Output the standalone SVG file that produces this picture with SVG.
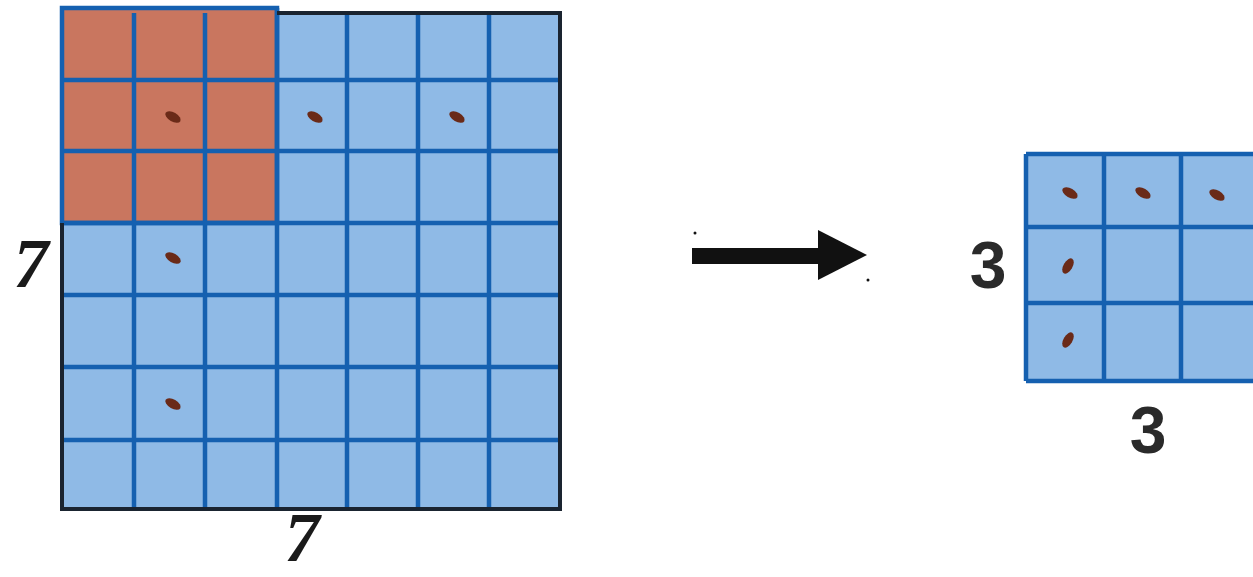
<svg xmlns="http://www.w3.org/2000/svg" width="1253" height="577" viewBox="0 0 1253 577">
<style>
.cell{fill:#8fbae6}
.brown{fill:#c9765f}
.gl{stroke:#1560b0;stroke-width:4.5;fill:none}
.outer{stroke:#1a2430;stroke-width:4;fill:none}
.dot{fill:#6a2a18}
.n7{font-family:"Liberation Serif",serif;font-style:italic;font-weight:bold;font-size:70px;fill:#1a1a1a;text-anchor:middle}
.n3{font-family:"Liberation Sans",sans-serif;font-weight:bold;font-size:66px;fill:#2a2a2a;text-anchor:middle}
</style>
<defs>
<ellipse id="d" class="dot" cx="0" cy="0" rx="8.5" ry="4.5"/>
</defs>
<rect width="1253" height="577" fill="#ffffff"/>
<g id="input-grid">
<rect class="cell" x="62" y="13" width="498" height="496"/>
<rect class="brown" x="62" y="8" width="215" height="215"/>
<path class="gl" d="M134 13V509M205 13V509M277 8V509M347 13V509M418 13V509M489 13V509M62 80H560M62 151H560M62 223H560M62 295H560M62 367H560M62 440H560"/>
<path class="gl" d="M62 8H277V223H62Z"/>
<path class="outer" d="M277 13H560V509H62V223"/>
<use href="#d" transform="translate(173,117) rotate(30)"/>
<use href="#d" transform="translate(315,117) rotate(30)"/>
<use href="#d" transform="translate(457,117) rotate(30)"/>
<use href="#d" transform="translate(173,258) rotate(30)"/>
<use href="#d" transform="translate(173,404) rotate(30)"/>
<text class="n7" x="31" y="287">7</text>
<text class="n7" x="302" y="561" font-size="66">7</text>
</g>
<g id="connectors">
<rect x="692" y="248" width="130" height="16" fill="#111"/>
<path d="M818 230L867 255L818 280Z" fill="#111"/>
<circle cx="695" cy="233" r="1.5" fill="#111"/>
<circle cx="868" cy="280" r="1.5" fill="#111"/>
</g>
<g id="output-grid">
<rect class="cell" x="1026" y="154" width="232" height="227"/>
<path class="gl" d="M1026 154H1258M1026 227H1258M1026 303H1258M1026 381H1258M1026 154V381M1104 154V381M1181 154V381"/>
<use href="#d" transform="translate(1070,193) rotate(30)"/>
<use href="#d" transform="translate(1143,193) rotate(30)"/>
<use href="#d" transform="translate(1217,195) rotate(30)"/>
<use href="#d" transform="translate(1068,266) rotate(-60)"/>
<use href="#d" transform="translate(1068,340) rotate(-60)"/>
<text class="n3" x="988" y="288">3</text>
<text class="n3" x="1148" y="453">3</text>
</g>
</svg>
